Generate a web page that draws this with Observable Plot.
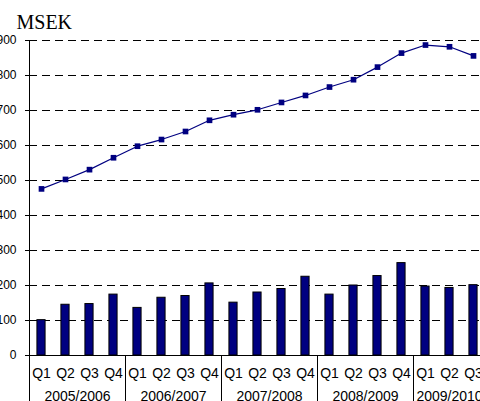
<!DOCTYPE html>
<html><head><meta charset="utf-8">
<script src="https://cdn.jsdelivr.net/npm/d3@7"></script>
<script src="https://cdn.jsdelivr.net/npm/@observablehq/plot@0.6"></script>
<style>
html,body{margin:0;padding:0;overflow:hidden;background:#fff;}
#chart{width:480px;height:401px;overflow:hidden;}
#chart svg{display:block;max-width:none !important;}
</style></head><body><div id="chart"></div>
<script>
const quarters = ["Q1","Q2","Q3","Q4","Q1","Q2","Q3","Q4","Q1","Q2","Q3","Q4","Q1","Q2","Q3","Q4","Q1","Q2","Q3"];
const years = ["2005/2006","2006/2007","2007/2008","2008/2009","2009/2010"];
const quartersPerYear = [4,4,4,4,3];
const barValues = [101,145,147,174,136,165,170,206,151,180,190,225,174,200,227,264,197,193,201];
const lineValues = [476,503,531,565,598,617,640,672,688,702,723,743,767,788,824,864,887,882,856];
const yTicks = [0,100,200,300,400,500,600,700,800,900];
const unitLabel = "MSEK";

const rows = quarters.map((q, i) => ({i, q, bar: barValues[i], line: lineValues[i]}));
let start = 0;
const groups = years.map((year, k) => {
  const n = quartersPerYear[k];
  const g = {year, start: start - 0.5, mid: start + (n - 1) / 2};
  start += n;
  return g;
});
const navy = "#000080";
const hw = 0.17;

const chart = Plot.plot({
  width: 485, height: 401,
  marginLeft: 29, marginRight: 0, marginTop: 40, marginBottom: 46,
  style: {fontFamily: "'Liberation Sans', Arial, sans-serif", fontSize: "12px", background: "white", color: "black", overflow: "hidden", maxWidth: "none"},
  x: {type: "linear", domain: [-0.5, quarters.length - 0.5], axis: null},
  y: {domain: [0, 900], axis: null},
  marks: [
    Plot.ruleY(yTicks.filter(t => t > 0), {stroke: "black", strokeDasharray: "8,5"}),
    Plot.axisY(yTicks, {tickSize: 4, tickPadding: 9, fontSize: 12, label: null}),
    Plot.rectY(rows, {x1: d => d.i - hw, x2: d => d.i + hw, y1: 0, y2: "bar", fill: navy, stroke: "black", strokeWidth: 1}),
    Plot.ruleX([-0.5], {stroke: "black"}),
    Plot.ruleY([0], {stroke: "black"}),
    Plot.ruleX(groups, {x: "start", y1: 0, y2: 0, insetBottom: -50, stroke: "black"}),
    Plot.line(rows, {x: "i", y: "line", stroke: navy, strokeWidth: 1.2}),
    Plot.dot(rows, {x: "i", y: "line", symbol: "square", r: 3.2, fill: navy, stroke: "none"}),
    Plot.text(rows, {x: "i", y: 0, text: "q", dy: 18, fontSize: 14}),
    Plot.text(groups, {x: "mid", y: 0, text: "year", dy: 41, fontSize: 14}),
    Plot.text([unitLabel], {frameAnchor: "top-left", dx: -13, dy: -12, textAnchor: "start", lineAnchor: "bottom", fontSize: 20, fontFamily: "'Liberation Serif', 'Times New Roman', serif"})
  ]
});
document.getElementById("chart").appendChild(chart);
</script>
</body></html>
